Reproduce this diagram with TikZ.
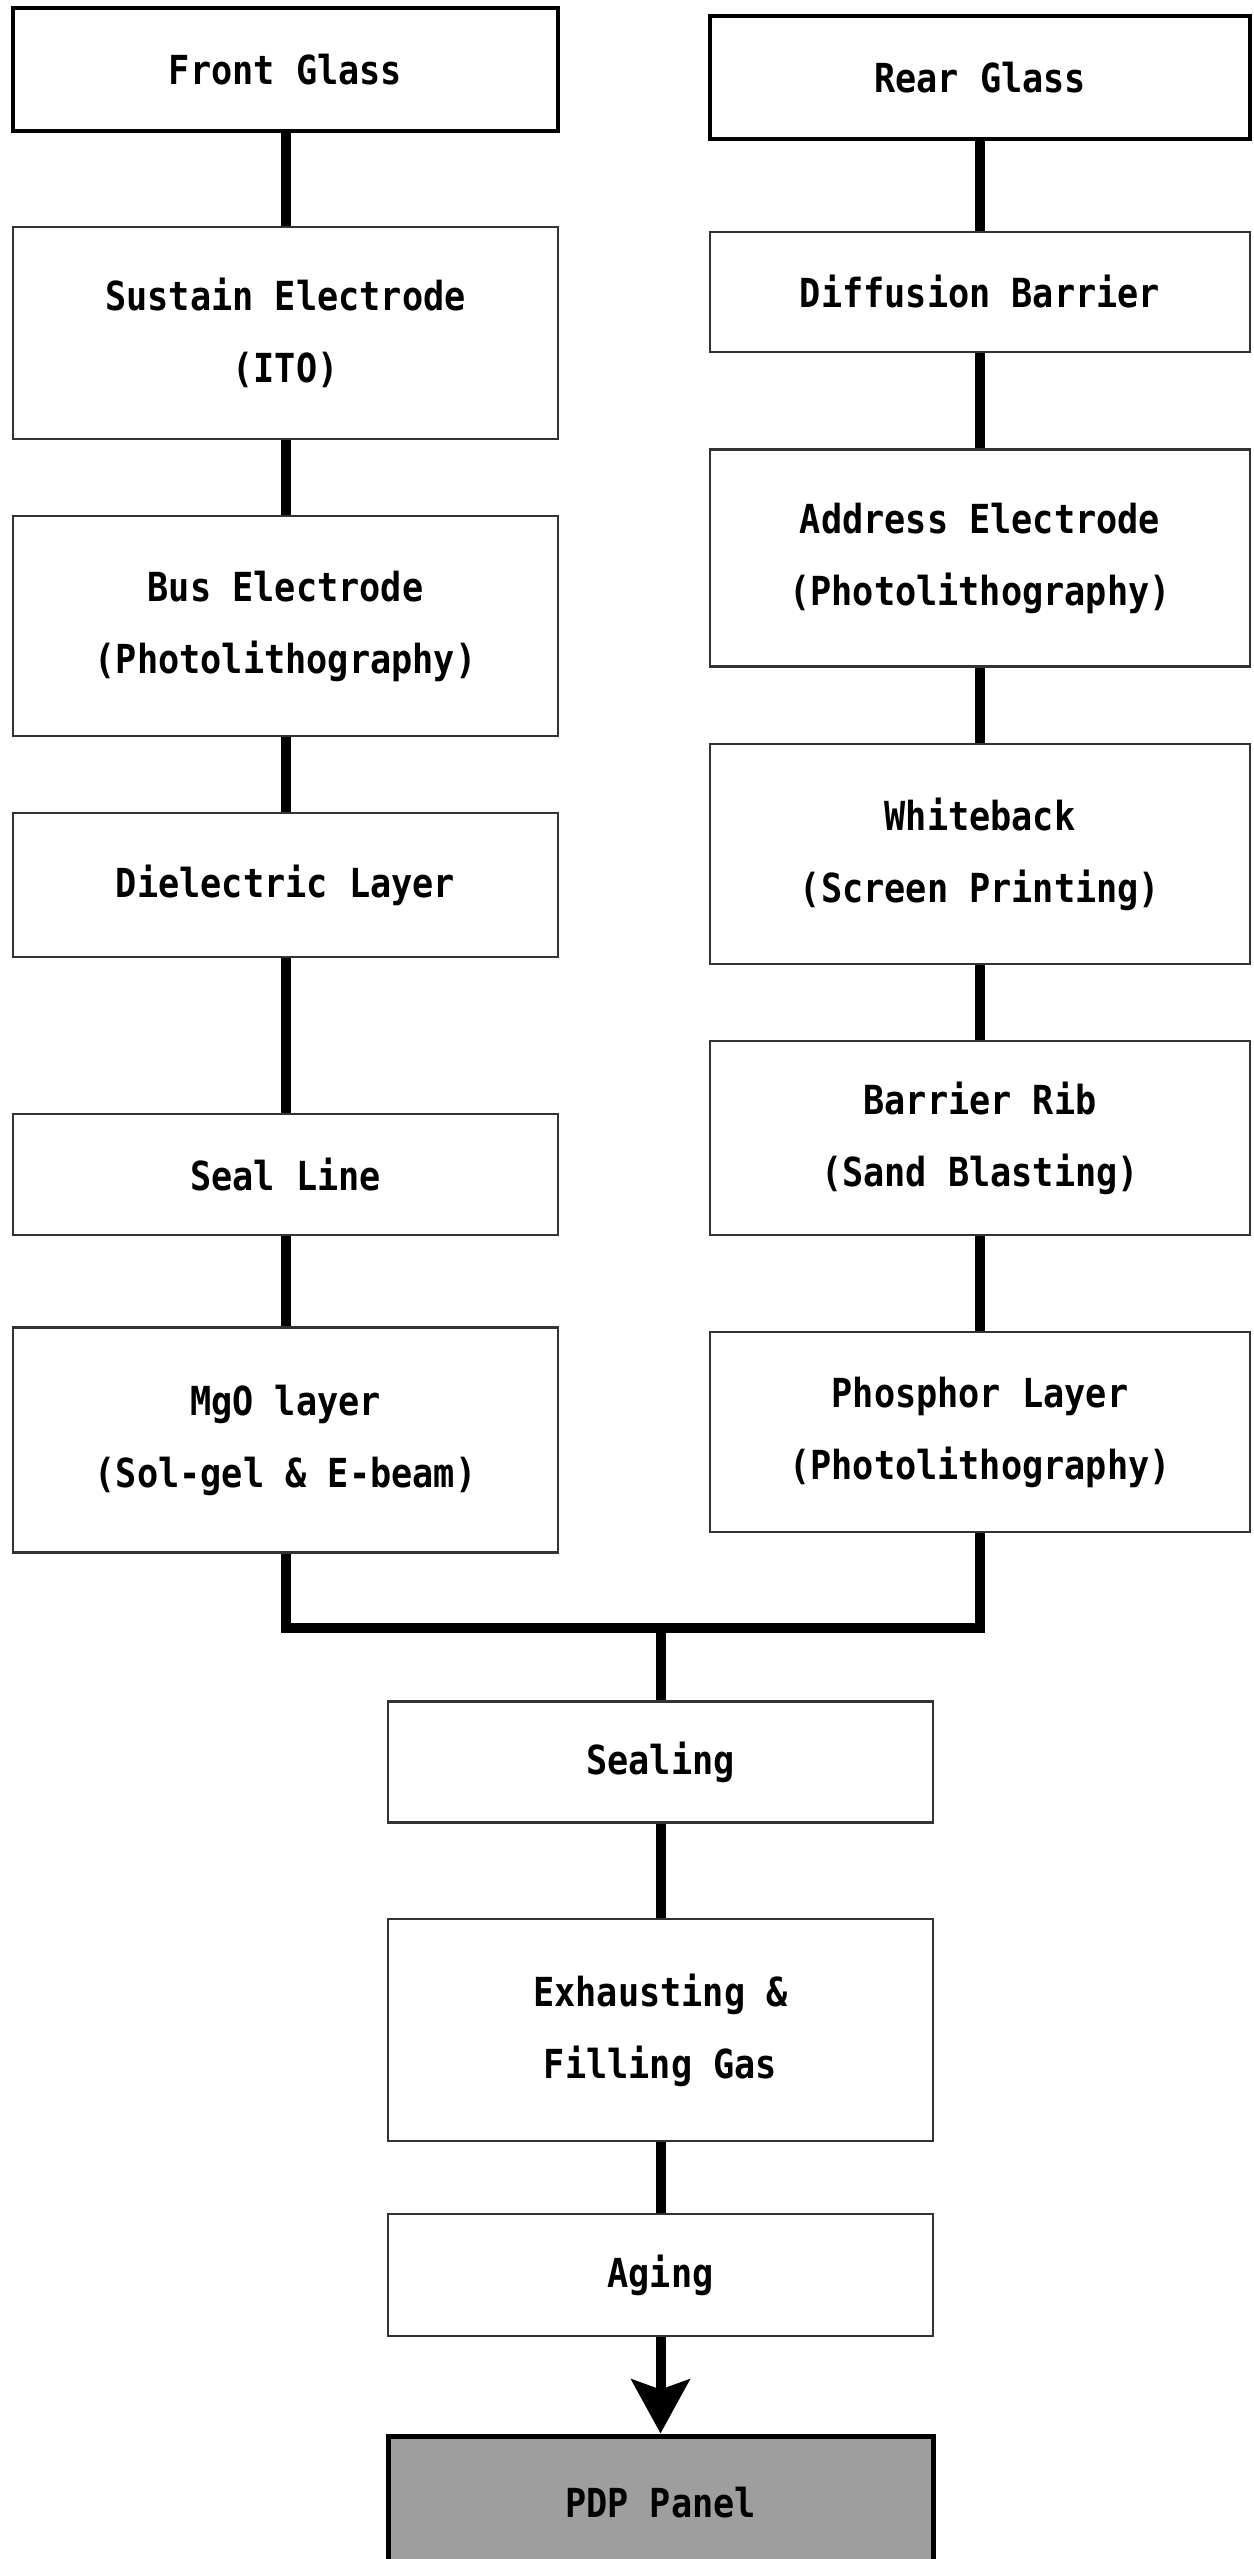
\documentclass[tikz,border=0pt]{standalone}
\usepackage{fontspec}
\newfontfamily\boxfont[FakeStretch=0.88]{DejaVu Sans Mono}
\usetikzlibrary{arrows.meta}
\begin{document}
\begin{tikzpicture}[x=1pt,y=-1pt,
  stepbox/.style={draw=black!80, line width=2.8pt, fill=white, rectangle, inner sep=0pt,
     align=center, font=\boxfont\bfseries\fontsize{40}{72}\selectfont},
  glassbox/.style={stepbox, draw=black, line width=4.5pt},
  panelbox/.style={stepbox, draw=black, line width=5pt, fill=black!38},
  conn/.style={line width=10pt, draw=black, line join=miter}]
\useasboundingbox (0,0) rectangle (1253,2559);
% left column
\node[glassbox, minimum width=545pt, minimum height=123pt] (FG) at (285.5,69.5) {Front Glass};
\node[stepbox, minimum width=545pt, minimum height=212pt] (SE) at (285.5,333) {Sustain Electrode\\(ITO)};
\node[stepbox, minimum width=545pt, minimum height=220pt] (BE) at (285.5,626) {Bus Electrode\\(Photolithography)};
\node[stepbox, minimum width=545pt, minimum height=144pt] (DL) at (285.5,885) {Dielectric Layer};
\node[stepbox, minimum width=545pt, minimum height=121pt] (SL) at (285.5,1174.5) {Seal Line};
\node[stepbox, minimum width=545pt, minimum height=225pt] (MG) at (285.5,1440) {MgO layer\\(Sol-gel \& E-beam)};
% right column
\node[glassbox, minimum width=540pt, minimum height=123pt] (RG) at (980,77.5) {Rear Glass};
\node[stepbox, minimum width=540pt, minimum height=120pt] (DB) at (980,292) {Diffusion Barrier};
\node[stepbox, minimum width=540pt, minimum height=217pt] (AE) at (980,558) {Address Electrode\\(Photolithography)};
\node[stepbox, minimum width=540pt, minimum height=220pt] (WB) at (980,854) {Whiteback\\(Screen Printing)};
\node[stepbox, minimum width=540pt, minimum height=194pt] (BR) at (980,1138) {Barrier Rib\\(Sand Blasting)};
\node[stepbox, minimum width=540pt, minimum height=200pt] (PL) at (980,1432) {Phosphor Layer\\(Photolithography)};
% centre column
\coordinate (J) at (660.5,1628);
\node[stepbox, minimum width=545pt, minimum height=121pt] (SG) at (660.5,1762) {Sealing};
\node[stepbox, minimum width=545pt, minimum height=222pt] (EX) at (660.5,2030) {Exhausting \&\\Filling Gas};
\node[stepbox, minimum width=545pt, minimum height=122pt] (AG) at (660.5,2275) {Aging};
\node[panelbox, minimum width=545pt, minimum height=134pt] (PDP) at (660.5,2503) {PDP Panel};
% connectors
\draw[conn] (FG.south) -- (SE.north);
\draw[conn] (SE.south) -- (BE.north);
\draw[conn] (BE.south) -- (DL.north);
\draw[conn] (DL.south) -- (SL.north);
\draw[conn] (SL.south) -- (MG.north);
\draw[conn] (RG.south) -- (DB.north);
\draw[conn] (DB.south) -- (AE.north);
\draw[conn] (AE.south) -- (WB.north);
\draw[conn] (WB.south) -- (BR.north);
\draw[conn] (BR.south) -- (PL.north);
\draw[conn] (MG.south) -- (MG.south |- J) -- (PL.south |- J) -- (PL.south);
\draw[conn] (J) -- (SG.north);
\draw[conn] (SG.south) -- (EX.north);
\draw[conn] (EX.south) -- (AG.north);
\draw[conn, -{Stealth[length=54pt, width=58pt, inset=10pt]}] (AG.south) -- (PDP.north);
\end{tikzpicture}
\end{document}
